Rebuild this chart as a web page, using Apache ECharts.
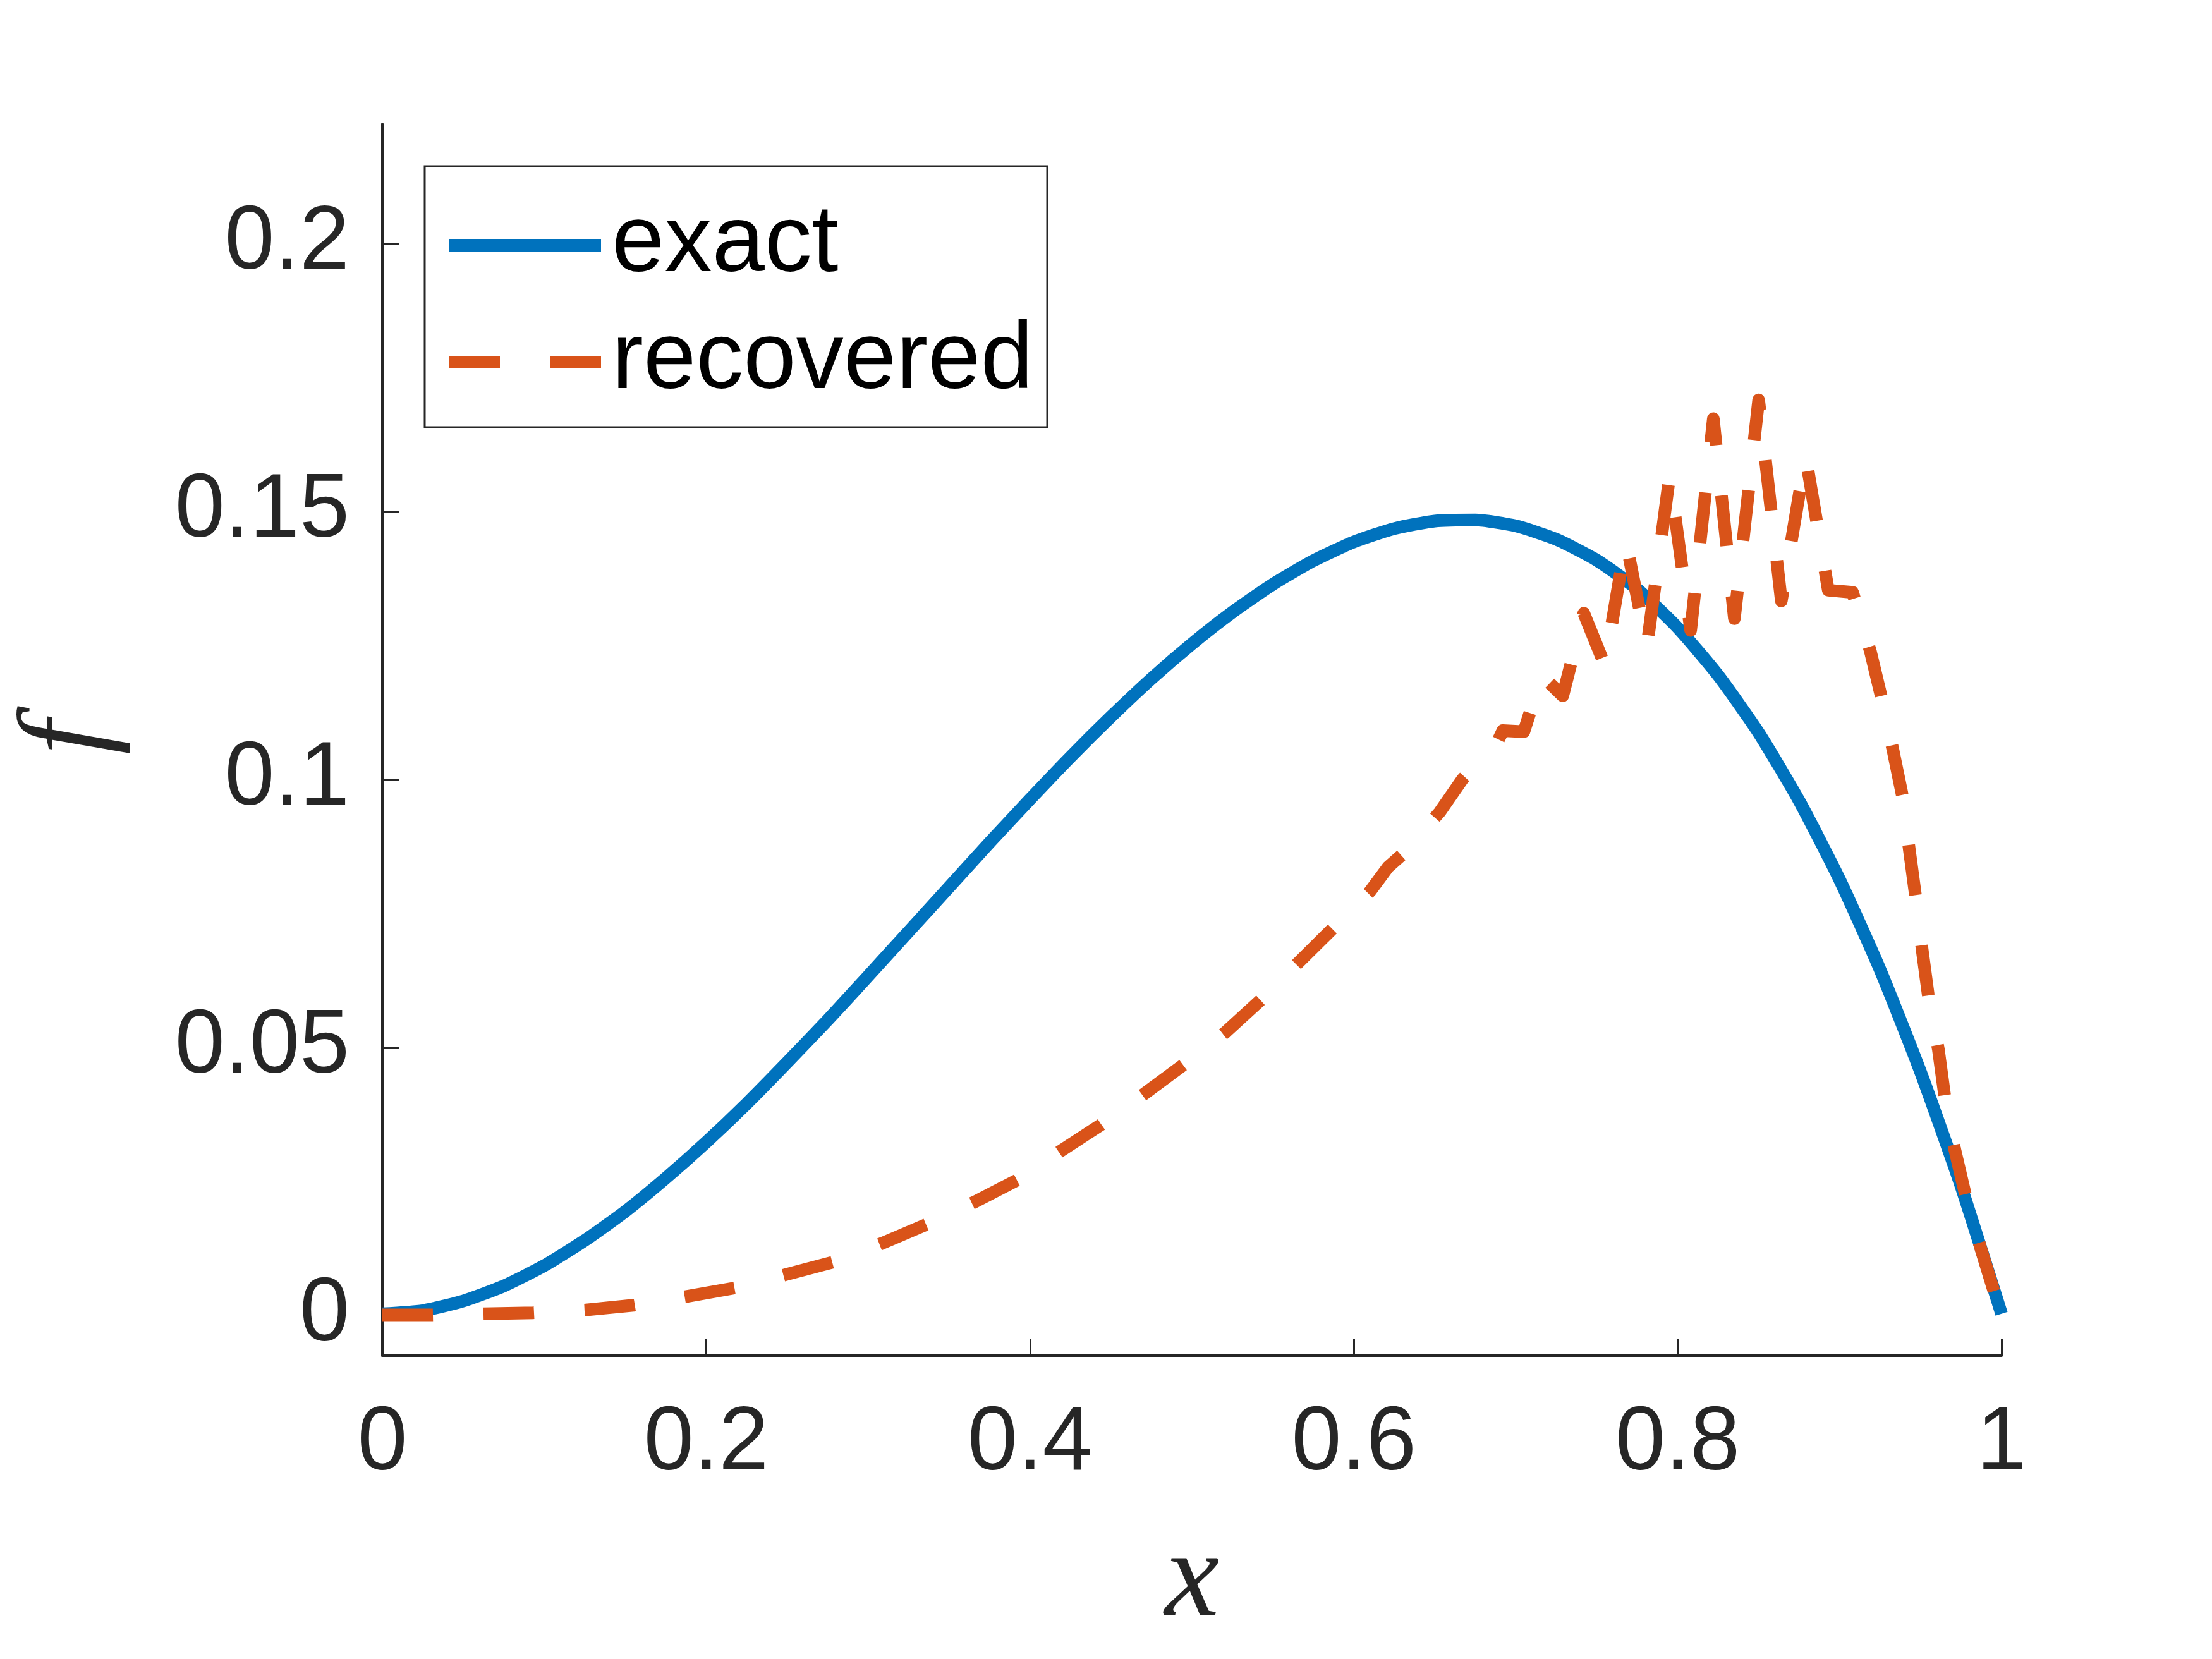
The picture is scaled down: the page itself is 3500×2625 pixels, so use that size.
<!DOCTYPE html>
<html>
<head>
<meta charset="utf-8">
<script src="https://cdn.jsdelivr.net/npm/echarts@6/dist/echarts.min.js"></script>
<style>
  html, body { margin: 0; padding: 0; background: #fff; }
  #main { width: 3500px; height: 2625px; }
</style>
</head>
<body>
<div id="main"></div>
<script>
// exact solution, every 0.025
const exactX = [0, 0.025, 0.05, 0.075, 0.1, 0.125, 0.15, 0.175, 0.2, 0.225,
  0.25, 0.275, 0.3, 0.325, 0.35, 0.375, 0.4, 0.425, 0.45, 0.475,
  0.5, 0.525, 0.55, 0.575, 0.6, 0.625, 0.65, 0.675, 0.7, 0.725,
  0.75, 0.775, 0.8, 0.825, 0.85, 0.875, 0.9, 0.925, 0.95, 0.975, 1]
const exactY = [0.0004, 0.0010, 0.0028, 0.0056, 0.0094, 0.0141, 0.0195, 0.0257, 0.0324, 0.0396,
  0.0473, 0.0552, 0.0634, 0.0717, 0.0800, 0.0883, 0.0964, 0.1043, 0.1118, 0.1189,
  0.1254, 0.1313, 0.1365, 0.1409, 0.1444, 0.1469, 0.1483, 0.1485, 0.1474, 0.1449,
  0.1410, 0.1356, 0.1284, 0.1195, 0.1088, 0.0961, 0.0814, 0.0646, 0.0455, 0.0242, 0.0004]

// recovered solution (dashed), vertices estimated from the dashes
const recoveredX = [0, 0.031, 0.062, 0.093, 0.125, 0.155, 0.189, 0.219, 0.249, 0.279,
  0.309, 0.337, 0.366, 0.393, 0.418, 0.444, 0.469, 0.495, 0.521, 0.543,
  0.565, 0.586, 0.610, 0.621, 0.630, 0.653, 0.667, 0.689, 0.692, 0.705,
  0.716, 0.729, 0.742, 0.755, 0.768, 0.781, 0.795, 0.808, 0.822, 0.835,
  0.850, 0.864, 0.879, 0.893, 0.908, 0.919, 0.926, 0.933, 0.939, 0.943,
  0.947, 0.951, 0.955, 0.961, 0.965, 0.971, 0.978, 0.987, 0.996, 1]
const recoveredY = [0.0002, 0.0002, 0.0004, 0.0006, 0.0011, 0.0020, 0.0037, 0.0053, 0.0077, 0.0101,
  0.0136, 0.0172, 0.0213, 0.0255, 0.0306, 0.0357, 0.0411, 0.0469, 0.0530, 0.0591,
  0.0657, 0.0720, 0.0792, 0.0837, 0.0861, 0.0940, 0.1001, 0.1073, 0.1092, 0.1090,
  0.1195, 0.1157, 0.1311, 0.1214, 0.1446, 0.1249, 0.1567, 0.1279, 0.1674, 0.1301,
  0.1709, 0.1334, 0.1604, 0.1354, 0.1350, 0.1240, 0.1152, 0.1055, 0.0967, 0.0871,
  0.0781, 0.0683, 0.0593, 0.0497, 0.0408, 0.0312, 0.0222, 0.0128, 0.0039, 0.0008]

const yTicks = [0, 0.05, 0.1, 0.15, 0.2]
const xTicks = [0, 0.2, 0.4, 0.6, 0.8, 1]

const axisColor = '#262626'

function zip(xs, ys) {
  return xs.map((x, i) => [x, ys[i]])
}

const chart = echarts.init(document.getElementById('main'))
chart.setOption({
  animation: false,
  backgroundColor: '#fff',
  grid: { left: 605, right: 333, top: 196, bottom: 480 },
  legend: {
    orient: 'vertical',
    left: 672,
    top: 263,
    padding: [50, 22, 28, 29],
    itemWidth: 240,
    itemHeight: 21,
    itemGap: 35,
    backgroundColor: '#fff',
    borderColor: axisColor,
    borderWidth: 3,
    itemStyle: { opacity: 0 },
    lineStyle: { width: 20 },
    textStyle: {
      fontSize: 150,
      fontFamily: 'Liberation Sans',
      color: '#000',
      lineHeight: 150,
      padding: [0, 0, 0, 12]
    },
    data: ['exact', 'recovered']
  },
  xAxis: {
    type: 'value',
    min: 0,
    max: 1,
    interval: 0.2,
    axisLine: { onZero: false, lineStyle: { color: axisColor, width: 4 } },
    axisTick: { inside: true, length: 27, customValues: xTicks, lineStyle: { color: axisColor, width: 3 } },
    axisLabel: {
      customValues: xTicks,
      color: axisColor,
      fontSize: 142,
      fontFamily: 'Liberation Sans',
      margin: 70,
      formatter: v => String(+v.toFixed(2))
    },
    splitLine: { show: false }
  },
  yAxis: {
    type: 'value',
    min: -0.0074,
    max: 0.2224,
    axisLine: { show: true, onZero: false, lineStyle: { color: axisColor, width: 4 } },
    axisTick: { show: true, inside: true, length: 27, customValues: yTicks, lineStyle: { color: axisColor, width: 3 } },
    axisLabel: {
      customValues: yTicks,
      color: axisColor,
      fontSize: 142,
      fontFamily: 'Liberation Sans',
      margin: 52,
      formatter: v => String(+v.toFixed(2))
    },
    splitLine: { show: false }
  },
  graphic: [
    {
      type: 'text',
      x: 112,
      y: 1167,
      rotation: Math.PI / 2,
      style: {
        text: 'f',
        fontSize: 195,
        fontStyle: 'italic',
        fontFamily: 'Liberation Serif',
        fill: axisColor,
        align: 'center',
        verticalAlign: 'middle'
      }
    },
    {
      type: 'text',
      x: 1886,
      y: 2504,
      style: {
        text: 'x',
        fontSize: 195,
        fontStyle: 'italic',
        fontFamily: 'Liberation Serif',
        fill: axisColor,
        align: 'center',
        verticalAlign: 'middle'
      }
    }
  ],
  series: [
    {
      name: 'exact',
      type: 'line',
      data: zip(exactX, exactY),
      smooth: 0.2,
      symbol: 'none',
      itemStyle: { color: '#0072BD' },
      lineStyle: { color: '#0072BD', width: 20, join: 'round' }
    },
    {
      name: 'recovered',
      type: 'line',
      data: zip(recoveredX, recoveredY),
      symbol: 'none',
      itemStyle: { color: '#D95319' },
      lineStyle: { color: '#D95319', width: 20, type: [80, 80], cap: 'butt', join: 'round' }
    }
  ]
})
</script>
</body>
</html>
